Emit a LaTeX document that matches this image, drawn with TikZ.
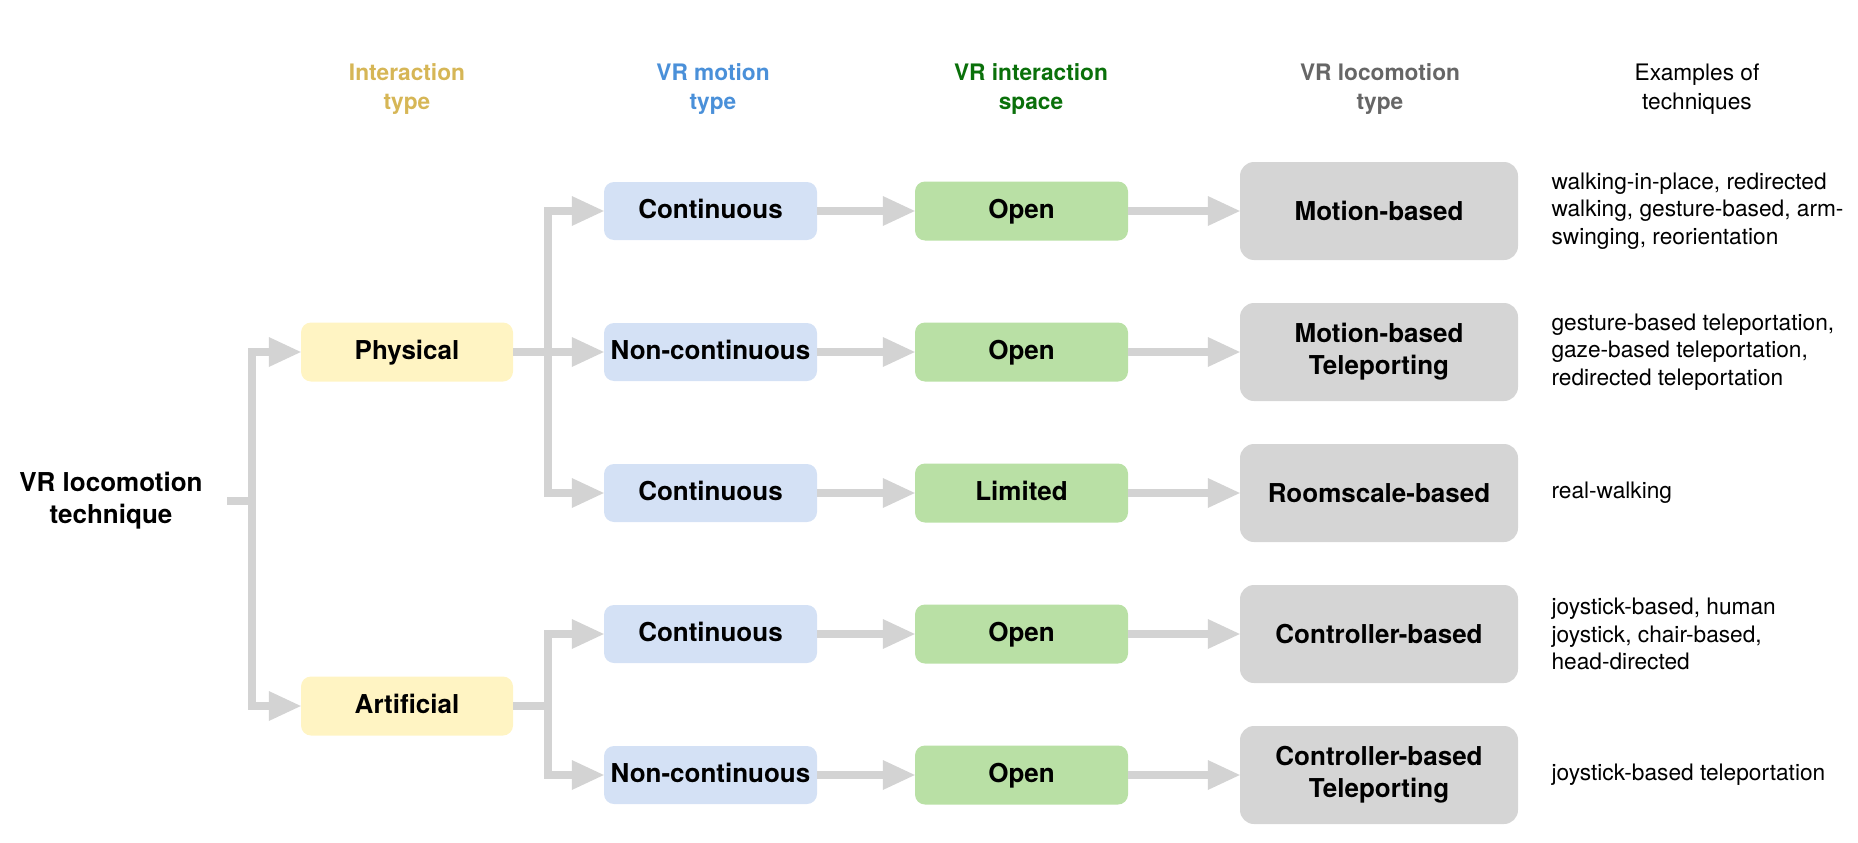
\documentclass[tikz,border=0pt]{standalone}
\usepackage{fontspec}
\setmainfont{TeX Gyre Heros}
\usetikzlibrary{arrows.meta}

\definecolor{typefill}{HTML}{FFF4C3}
\definecolor{motionfill}{HTML}{D4E1F5}
\definecolor{spacefill}{HTML}{B9E0A5}
\definecolor{locofill}{HTML}{D5D5D5}
\definecolor{linkgray}{HTML}{D3D3D3}
\definecolor{typehead}{HTML}{D6B656}
\definecolor{motionhead}{HTML}{4A90D9}
\definecolor{spacehead}{HTML}{0A700A}
\definecolor{locohead}{HTML}{666666}

\begin{document}
\begin{tikzpicture}[x=1pt, y=-1pt,
    % Define the styles for the boxes
    basebox/.style={rounded corners=10pt, inner sep=0pt, align=center,
        font=\fontsize{26pt}{32pt}\selectfont\bfseries},
    onerow/.style={text height=20.8pt, text depth=5.5pt},
    typebox/.style={basebox, onerow, fill=typefill, minimum width=212pt, minimum height=59pt},
    motionbox/.style={basebox, onerow, fill=motionfill, minimum width=213pt, minimum height=58pt},
    spacebox/.style={basebox, onerow, fill=spacefill, minimum width=213pt, minimum height=59pt},
    locobox/.style={basebox, fill=locofill, rounded corners=14pt, minimum width=278pt, minimum height=98pt},
    rootlabel/.style={align=center, font=\fontsize{26pt}{32pt}\selectfont\bfseries},
    % Define the styles for the column heads and the examples
    head/.style={align=center, font=\fontsize{22.7pt}{29pt}\selectfont\bfseries},
    exhead/.style={align=center, font=\fontsize{22.7pt}{29pt}\selectfont},
    example/.style={anchor=west, align=left, font=\fontsize{22.7pt}{27.5pt}\selectfont},
    % Define the styles for the connectors
    trunk/.style={draw=linkgray, line width=8pt},
    link/.style={trunk, -{Triangle[length=32pt, width=30pt, line width=0pt]}}
]
\useasboundingbox (0,0) rectangle (1858,843);

% Column heads
\node[head, text=typehead] (hType) at (407,89) {Interaction\\type};
\node[head, text=motionhead] (hMotion) at (713,89) {VR motion\\type};
\node[head, text=spacehead] (hSpace) at (1031,89) {VR interaction\\space};
\node[head, text=locohead] (hLoco) at (1380,89) {VR locomotion\\type};
\node[exhead] (hExamples) at (1697,89) {Examples of\\techniques};

% Root and interaction type
\node[rootlabel] (root) at (111,501) {VR locomotion\\technique};
\node[typebox] (phys) at (407,352) {Physical};
\node[typebox] (arti) at (407,706) {Artificial};

% Motion type
\node[motionbox] (mot1) at (710.5,211) {Continuous};
\node[motionbox] (mot2) at (710.5,352) {Non-continuous};
\node[motionbox] (mot3) at (710.5,493) {Continuous};
\node[motionbox] (mot4) at (710.5,634) {Continuous};
\node[motionbox] (mot5) at (710.5,775) {Non-continuous};

% Interaction space
\node[spacebox] (spc1) at (1021.5,211) {Open};
\node[spacebox] (spc2) at (1021.5,352) {Open};
\node[spacebox] (spc3) at (1021.5,493) {Limited};
\node[spacebox] (spc4) at (1021.5,634) {Open};
\node[spacebox] (spc5) at (1021.5,775) {Open};

% Locomotion type
\node[locobox] (loc1) at (1379,211) {Motion-based};
\node[locobox] (loc2) at (1379,352) {Motion-based\\Teleporting};
\node[locobox] (loc3) at (1379,493) {Roomscale-based};
\node[locobox] (loc4) at (1379,634) {Controller-based};
\node[locobox] (loc5) at (1379,775) {Controller-based\\Teleporting};

% Examples
\node[example] (ex1) at (1548,211) {walking-in-place, redirected\\walking, gesture-based, arm-\\swinging, reorientation};
\node[example] (ex2) at (1548,352) {gesture-based teleportation,\\gaze-based teleportation,\\redirected teleportation};
\node[example] (ex3) at (1548,493) {real-walking};
\node[example] (ex4) at (1548,634) {joystick-based, human\\joystick, chair-based,\\head-directed};
\node[example] (ex5) at (1548,775) {joystick-based teleportation};

% Junction points
\coordinate (stub) at (227,501);
\coordinate (rootj) at (251.5,501);
\coordinate (physj) at (548,352);
\coordinate (artij) at (548,706);

% Branches from the root
\draw[trunk] (stub) -- (rootj);
\draw[link] (rootj) |- (phys.west);
\draw[link] (rootj) |- (arti.west);

% Branches from the interaction types
\draw[trunk] (phys.east) -- (physj);
\draw[link] (physj) |- (mot1.west);
\draw[link] (physj) -- (mot2.west);
\draw[link] (physj) |- (mot3.west);
\draw[trunk] (arti.east) -- (artij);
\draw[link] (artij) |- (mot4.west);
\draw[link] (artij) |- (mot5.west);

% Rows
\draw[link] (mot1.east) -- (spc1.west);
\draw[link] (mot2.east) -- (spc2.west);
\draw[link] (mot3.east) -- (spc3.west);
\draw[link] (mot4.east) -- (spc4.west);
\draw[link] (mot5.east) -- (spc5.west);
\draw[link] (spc1.east) -- (loc1.west);
\draw[link] (spc2.east) -- (loc2.west);
\draw[link] (spc3.east) -- (loc3.west);
\draw[link] (spc4.east) -- (loc4.west);
\draw[link] (spc5.east) -- (loc5.west);

\end{tikzpicture}
\end{document}
